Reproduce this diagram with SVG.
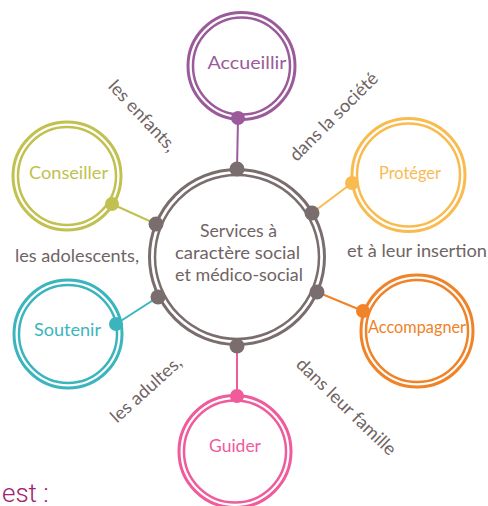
<svg xmlns="http://www.w3.org/2000/svg" width="488" height="506" viewBox="0 0 488 506">
<style>
  text { font-family: Lato, "Open Sans", "Liberation Sans", sans-serif; font-size: 18px; }
  .g { fill: #6f6464; }
  .lbl { text-anchor: middle; }
  .ring { fill: none; }
  .o { stroke-width: 3; }
  .i { stroke-width: 2.5; }
  .conn { stroke-width: 2; fill: none; }
  .hub { fill: #7a6d6e; }
  .est { font-family: Roboto, "Liberation Sans", sans-serif; font-weight: 300; font-size: 26px; fill: #a2216f; }
</style>
<rect width="488" height="506" fill="#ffffff"/>

<g id="connectors">
  <line class="conn" x1="237" y1="169" x2="238" y2="118" stroke="#9b5b9b"/>
  <line class="conn" x1="156" y1="224" x2="112" y2="204" stroke="#c0c150"/>
  <line class="conn" x1="312" y1="213" x2="352" y2="183" stroke="#f9bb50"/>
  <line class="conn" x1="158" y1="297" x2="116" y2="324" stroke="#3bb5bd"/>
  <line class="conn" x1="317" y1="292" x2="363" y2="311" stroke="#f08228"/>
  <line class="conn" x1="237" y1="346" x2="237" y2="396" stroke="#ef5b9b"/>
</g>

<g id="center">
  <circle class="ring o" cx="237" cy="257" r="87.5" stroke="#7a6d6e"/>
  <circle class="ring i" cx="237" cy="257" r="82" stroke="#7a6d6e"/>
  <circle class="hub" cx="237" cy="169" r="7.5"/>
  <circle class="hub" cx="312" cy="213" r="7.5"/>
  <circle class="hub" cx="317" cy="292" r="7.5"/>
  <circle class="hub" cx="237" cy="346" r="7.5"/>
  <circle class="hub" cx="158" cy="297" r="7.5"/>
  <circle class="hub" cx="156" cy="224" r="7.5"/>
  <text class="g lbl" x="238.5" y="237" textLength="77" lengthAdjust="spacingAndGlyphs">Services à</text>
  <text class="g lbl" x="237.5" y="259" textLength="125" lengthAdjust="spacingAndGlyphs">caractère social</text>
  <text class="g lbl" x="239" y="281" textLength="128" lengthAdjust="spacingAndGlyphs">et médico-social</text>
</g>

<g id="accueillir">
  <circle class="ring o" cx="241.5" cy="66" r="53.5" stroke="#9b5b9b"/>
  <circle class="ring i" cx="241.5" cy="66" r="48.5" stroke="#9b5b9b"/>
  <circle cx="238" cy="118" r="7" fill="#9b5b9b"/>
  <text class="lbl" x="247" y="69" fill="#9b5b9b" textLength="79" lengthAdjust="spacingAndGlyphs">Accueillir</text>
</g>

<g id="conseiller">
  <circle class="ring o" cx="67" cy="176" r="54" stroke="#c0c150"/>
  <circle class="ring i" cx="67" cy="176" r="49" stroke="#c0c150"/>
  <circle cx="112" cy="204" r="7" fill="#c0c150"/>
  <text class="lbl" x="68.5" y="179" fill="#c0c150" textLength="79" lengthAdjust="spacingAndGlyphs">Conseiller</text>
</g>

<g id="proteger">
  <circle class="ring o" cx="408.5" cy="175" r="56.5" stroke="#f9bb50"/>
  <circle class="ring i" cx="408.5" cy="175" r="51.5" stroke="#f9bb50"/>
  <circle cx="352" cy="183" r="7" fill="#f9bb50"/>
  <text class="lbl" x="410" y="179" fill="#f9bb50" textLength="62" lengthAdjust="spacingAndGlyphs">Protéger</text>
</g>

<g id="soutenir">
  <circle class="ring o" cx="68" cy="334" r="54" stroke="#3bb5bd"/>
  <circle class="ring i" cx="68" cy="334" r="49" stroke="#3bb5bd"/>
  <circle cx="116" cy="324" r="7" fill="#3bb5bd"/>
  <text class="lbl" x="67.5" y="336" fill="#3bb5bd" textLength="67" lengthAdjust="spacingAndGlyphs">Soutenir</text>
</g>

<g id="accompagner">
  <circle class="ring o" cx="417" cy="331" r="56" stroke="#f08228"/>
  <circle class="ring i" cx="417" cy="331" r="51" stroke="#f08228"/>
  <circle cx="363" cy="311" r="7" fill="#f08228"/>
  <text class="lbl" x="417" y="333" fill="#f08228" textLength="98" lengthAdjust="spacingAndGlyphs">Accompagner</text>
</g>

<g id="guider">
  <circle class="ring o" cx="235" cy="451.5" r="56" stroke="#ef5b9b"/>
  <circle class="ring i" cx="235" cy="451.5" r="51" stroke="#ef5b9b"/>
  <circle cx="237" cy="396" r="7" fill="#ef5b9b"/>
  <text class="lbl" x="235" y="452" fill="#ef5b9b" textLength="52" lengthAdjust="spacingAndGlyphs">Guider</text>
</g>

<g id="labels">
  <text class="g lbl" x="138" y="120" transform="rotate(47 138 120)" textLength="90" lengthAdjust="spacingAndGlyphs">les enfants,</text>
  <text class="g lbl" x="338" y="121" transform="rotate(-45 338 121)" textLength="117" lengthAdjust="spacingAndGlyphs">dans la société</text>
  <text class="g" x="15" y="262" textLength="124" lengthAdjust="spacingAndGlyphs">les adolescents,</text>
  <text class="g" x="347" y="257" textLength="140" lengthAdjust="spacingAndGlyphs">et à leur insertion</text>
  <text class="g lbl" x="150" y="394" transform="rotate(-42 150 394)" textLength="89" lengthAdjust="spacingAndGlyphs">les adultes,</text>
  <text class="g lbl" x="342" y="411" transform="rotate(44 342 411)" textLength="131" lengthAdjust="spacingAndGlyphs">dans leur famille</text>
</g>

<text class="est" x="2" y="502">est :</text>
</svg>
